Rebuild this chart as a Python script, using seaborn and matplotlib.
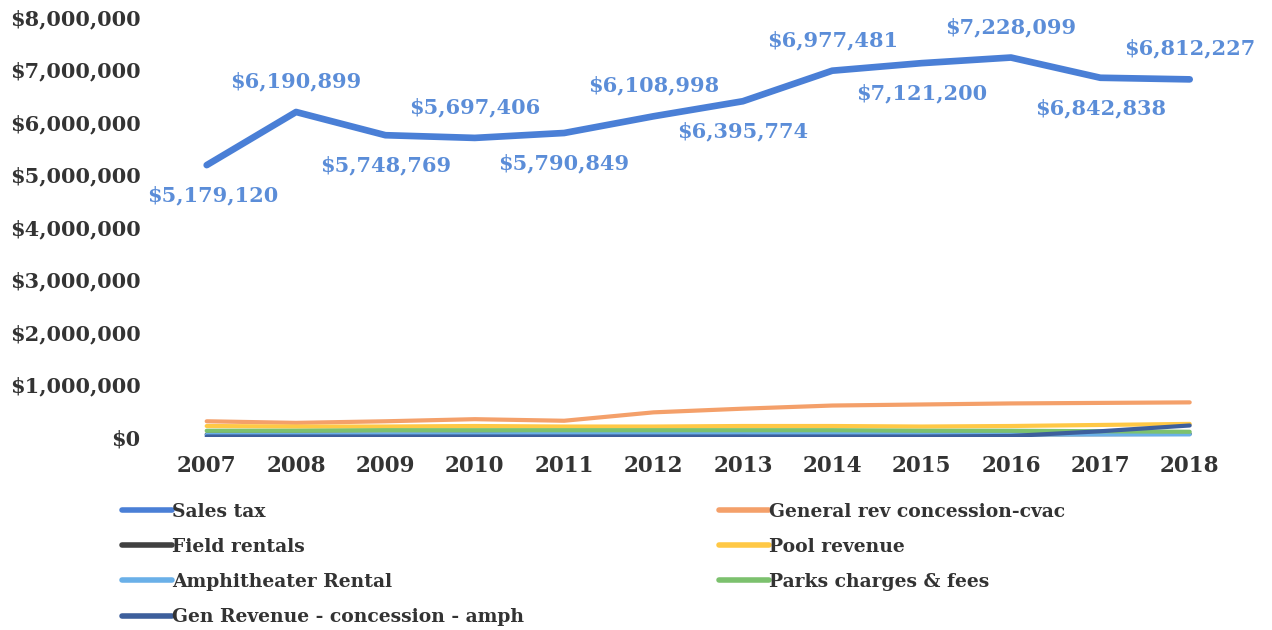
import matplotlib
matplotlib.use("Agg")
import matplotlib.pyplot as plt
import seaborn as sns
import pandas as pd
from matplotlib.ticker import FuncFormatter
from matplotlib.lines import Line2D

years = [2007, 2008, 2009, 2010, 2011, 2012, 2013, 2014, 2015, 2016, 2017, 2018]
sales_tax = [5179120, 6190899, 5748769, 5697406, 5790849, 6108998, 6395774, 6977481, 7121200, 7228099, 6842838, 6812227]
general_rev = [300000, 270000, 300000, 340000, 310000, 470000, 540000, 600000, 620000, 640000, 650000, 660000]
field_rentals = [50000, 50000, 45000, 50000, 55000, 50000, 55000, 50000, 50000, 50000, 55000, 60000]
pool_revenue = [210000, 200000, 200000, 210000, 200000, 200000, 210000, 210000, 200000, 210000, 230000, 250000]
amph_rental = [40000, 40000, 50000, 50000, 60000, 70000, 80000, 60000, 50000, 50000, 50000, 50000]
parks_fees = [120000, 120000, 130000, 130000, 130000, 130000, 130000, 130000, 120000, 120000, 110000, 100000]
gen_rev_amph = [10000, 10000, 10000, 10000, 10000, 10000, 10000, 10000, 10000, 20000, 110000, 220000]

series_names = ["Sales tax", "General rev concession-cvac", "Field rentals", "Pool revenue",
                "Amphitheater Rental", "Parks charges & fees", "Gen Revenue - concession - amph"]
series_values = [sales_tax, general_rev, field_rentals, pool_revenue, amph_rental, parks_fees, gen_rev_amph]
colors = ["#4A7FD6", "#F4A06A", "#404040", "#FFC845", "#6AB0E8", "#7CC16E", "#3D5F9C"]

rows = []
for name, vals in zip(series_names, series_values):
    for y, v in zip(years, vals):
        rows.append({"Year": y, "Value": v, "Series": name})
df = pd.DataFrame(rows)

sns.set_theme(style="white")
plt.rcParams["font.family"] = ["DejaVu Serif"]
plt.rcParams["font.weight"] = "bold"

fig = plt.figure(figsize=(12.72, 6.30), dpi=100)
ax = fig.add_axes([0.1344, 0.3063, 0.829, 0.6667])

palette = dict(zip(series_names, colors))
sns.lineplot(data=df, x="Year", y="Value", hue="Series", hue_order=series_names,
             palette=palette, ax=ax, linewidth=3, legend=False)
ax.lines[0].set_linewidth(4.8)
for ln in ax.lines:
    ln.set_solid_capstyle("round")

ax.set_xlim(2006.6, 2018.4)
ax.set_ylim(0, 8000000)
ax.set_yticks(range(0, 8000001, 1000000))
ax.yaxis.set_major_formatter(FuncFormatter(lambda v, p: f"${int(v):,}"))
ax.set_xticks(years)
ax.set_xticklabels([str(y) for y in years])
ax.tick_params(axis="y", labelsize=15, colors="#333333", length=0, pad=22)
ax.tick_params(axis="x", labelsize=15.5, colors="#333333", length=0, pad=13)
for lab in ax.get_xticklabels() + ax.get_yticklabels():
    lab.set_fontweight("bold")
ax.set_xlabel("")
ax.set_ylabel("")
for s in ax.spines.values():
    s.set_visible(False)
ax.grid(False)

for i, (y, v) in enumerate(zip(years, sales_tax)):
    off = -22 if i % 2 == 0 else 22
    ax.annotate(f"${v:,}", (y, v), xytext=(4 if i == 0 else 0, off), textcoords="offset points",
                ha="center", va="center", fontsize=15, fontweight="bold", color="#5B8DD8")

order = [0, 2, 4, 6, 1, 3, 5]
handles = [Line2D([0], [0], color=colors[i], lw=4) for i in order]
labels = [series_names[i] for i in order]
leg = fig.legend(handles, labels, loc="upper left", bbox_to_anchor=(0.0959, 0.202), ncol=2,
                 frameon=False, handlelength=2.67, handletextpad=0.0,
                 columnspacing=10.4, labelspacing=0.915, borderpad=0, borderaxespad=0,
                 prop={"family": "DejaVu Serif", "weight": "bold", "size": 13.5})
for t in leg.get_texts():
    t.set_color("#333333")

fig.savefig("out.png", dpi=100)
